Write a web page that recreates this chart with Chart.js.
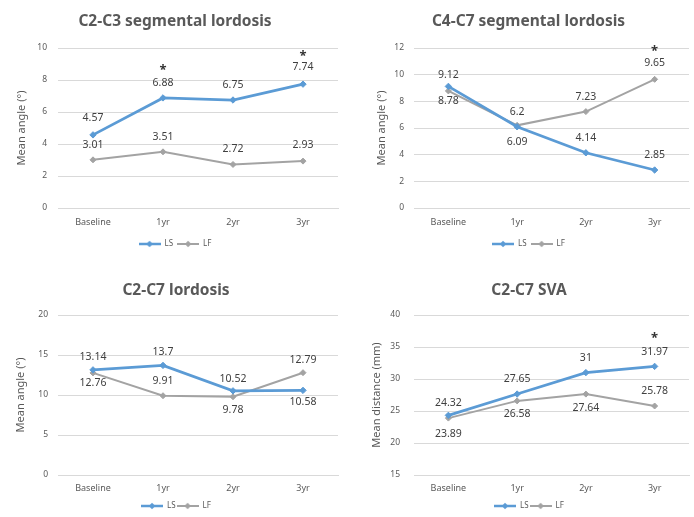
<!DOCTYPE html>
<html>
<head>
<meta charset="utf-8">
<script src="https://cdn.jsdelivr.net/npm/chart.js@4/dist/chart.umd.min.js"></script>
<style>
  html, body { margin: 0; padding: 0; background: #ffffff; }
  body { width: 694px; height: 517px; overflow: hidden; position: relative; }
  .panel { position: absolute; width: 347px; height: 258px; }
  .panel canvas { display: block; }
</style>
</head>
<body>
<div class="panel" style="left:0;top:0"><canvas id="c23"></canvas></div>
<div class="panel" style="left:347px;top:0"><canvas id="c47"></canvas></div>
<div class="panel" style="left:0;top:262px"><canvas id="c27"></canvas></div>
<div class="panel" style="left:347px;top:262px"><canvas id="sva"></canvas></div>
<script>
// Follow-up time points
const categories = ['Baseline', '1yr', '2yr', '3yr'];
const seriesNames = ['LS', 'LF'];

// C2-C3 segmental lordosis (degrees)
const c23LS = [4.57, 6.88, 6.75, 7.74];
const c23LF = [3.01, 3.51, 2.72, 2.93];
const c23LSMarks = ['', '*', '', '*'];
const c23LFMarks = ['', '', '', ''];

// C4-C7 segmental lordosis (degrees)
const c47LS = [9.12, 6.09, 4.14, 2.85];
const c47LF = [8.78, 6.2, 7.23, 9.65];
const c47LSMarks = ['', '', '', ''];
const c47LFMarks = ['', '', '', '*'];

// C2-C7 lordosis (degrees)
const c27LS = [13.14, 13.7, 10.52, 10.58];
const c27LF = [12.76, 9.91, 9.78, 12.79];
const c27LSMarks = ['', '', '', ''];
const c27LFMarks = ['', '', '', ''];

// C2-C7 sagittal vertical axis (mm)
const svaLS = [24.32, 27.65, 31, 31.97];
const svaLF = [23.89, 26.58, 27.64, 25.78];
const svaLSMarks = ['', '', '', '*'];
const svaLFMarks = ['', '', '', ''];

// Y axis ranges [min, max, step]
const c23Range = [0, 10, 2];
const c47Range = [0, 12, 2];
const c27Range = [0, 20, 5];
const svaRange = [15, 40, 5];

const FONT = '"Noto Sans", "DejaVu Sans", sans-serif';
const BLUE = '#5b9bd5';
const GREY = '#a3a3a3';
const TEXT = '#595959';
const LABEL = '#404040';

// Legend swatch: short line with a diamond marker
function swatch(color, lw) {
  const c = document.createElement('canvas');
  c.width = 22; c.height = 8;
  const g = c.getContext('2d');
  g.strokeStyle = color; g.lineWidth = lw;
  g.beginPath(); g.moveTo(0, 4); g.lineTo(22, 4); g.stroke();
  g.fillStyle = color;
  g.beginPath(); g.moveTo(11, 0.8); g.lineTo(14.2, 4); g.lineTo(11, 7.2); g.lineTo(7.8, 4); g.closePath(); g.fill();
  return c;
}

// Value labels (vertical offset from the point, negative = above) and significance marks
const pointLabels = {
  id: 'pointLabels',
  afterDatasetsDraw(chart) {
    const ctx = chart.ctx;
    ctx.save();
    ctx.textAlign = 'center';
    ctx.textBaseline = 'middle';
    chart.data.datasets.forEach((ds, di) => {
      const meta = chart.getDatasetMeta(di);
      meta.data.forEach((pt, i) => {
        ctx.font = '10.5px ' + FONT;
        ctx.fillStyle = LABEL;
        ctx.fillText(String(ds.data[i]), pt.x, pt.y + ds.labelShift[i]);
        if (ds.marks[i]) {
          ctx.font = 'bold 13px ' + FONT;
          ctx.fillStyle = '#333333';
          ctx.fillText(ds.marks[i], pt.x, pt.y - 28);
        }
      });
    });
    ctx.restore();
  }
};

function makeChart(cfg) {
  const el = document.getElementById(cfg.id);
  el.width = 347; el.height = 258;
  el.style.width = '347px'; el.style.height = '258px';
  return new Chart(el, {
    type: 'line',
    data: {
      labels: categories,
      datasets: [
        {
          label: seriesNames[0], data: cfg.ls, borderColor: BLUE, backgroundColor: BLUE,
          borderWidth: 2.75, pointStyle: 'rectRot', pointRadius: 3.2, pointBorderWidth: 1,
          tension: 0, labelShift: cfg.lsShift, marks: cfg.lsMarks, legendSwatch: swatch(BLUE, 2.5)
        },
        {
          label: seriesNames[1], data: cfg.lf, borderColor: GREY, backgroundColor: GREY,
          borderWidth: 2, pointStyle: 'rectRot', pointRadius: 3, pointBorderWidth: 1,
          tension: 0, labelShift: cfg.lfShift, marks: cfg.lfMarks, legendSwatch: swatch(GREY, 2)
        }
      ]
    },
    options: {
      responsive: false,
      animation: false,
      devicePixelRatio: 1,
      layout: { padding: cfg.pad },
      plugins: {
        title: {
          display: true, text: cfg.title, color: TEXT,
          font: { family: FONT, size: 15.5, weight: 'bold' },
          padding: cfg.titlePad
        },
        legend: {
          display: true, position: 'bottom',
          labels: {
            color: TEXT, font: { family: FONT, size: 8 },
            usePointStyle: true, pointStyleWidth: 22, padding: cfg.legendPad,
            generateLabels(chart) {
              const items = Chart.defaults.plugins.legend.labels.generateLabels(chart);
              items.forEach(it => { it.pointStyle = chart.data.datasets[it.datasetIndex].legendSwatch; });
              return items;
            }
          }
        },
        tooltip: { enabled: false }
      },
      scales: {
        x: {
          offset: true,
          grid: { display: false, drawTicks: false },
          border: { display: true, color: '#d9d9d9' },
          ticks: { color: TEXT, font: { family: FONT, size: 9 }, padding: cfg.xTickPad }
        },
        y: {
          min: cfg.range[0], max: cfg.range[1],
          afterFit(scale) { scale.width = cfg.yW; },
          grid: { color: '#d9d9d9', drawTicks: false },
          border: { display: false },
          ticks: { stepSize: cfg.range[2], color: TEXT, font: { family: FONT, size: 8.5 }, padding: cfg.yTickPad },
          title: {
            display: true, text: cfg.yTitle, color: TEXT,
            font: { family: FONT, size: 11 }, padding: { top: cfg.yTitlePad, bottom: 0 }
          }
        }
      }
    },
    plugins: [pointLabels]
  });
}

makeChart({
  id: 'c23', title: 'C2-C3 segmental lordosis', yTitle: 'Mean angle (°)',
  ls: c23LS, lf: c23LF, lsMarks: c23LSMarks, lfMarks: c23LFMarks, range: c23Range,
  lsShift: [-17, -15, -15, -17], lfShift: [-15, -15, -15, -16],
  pad: { left: 12, right: 9, top: 0, bottom: 0 }, titlePad: { top: 12.7, bottom: 16.7 },
  yW: 46, yTitlePad: 3.4, yTickPad: 11, xTickPad: 8.6, legendPad: 4
});

makeChart({
  id: 'c47', title: 'C4-C7 segmental lordosis', yTitle: 'Mean angle (°)',
  ls: c47LS, lf: c47LF, lsMarks: c47LSMarks, lfMarks: c47LFMarks, range: c47Range,
  lsShift: [-11, 15, -15, -15], lfShift: [10, -13, -15, -16],
  pad: { left: 18, right: 2, top: 0, bottom: 0 }, titlePad: { top: 12.7, bottom: 16.7 },
  yW: 49, yTitlePad: 10.4, yTickPad: 10, xTickPad: 8.6, legendPad: 4
});

makeChart({
  id: 'c27', title: 'C2-C7 lordosis', yTitle: 'Mean angle (°)',
  ls: c27LS, lf: c27LF, lsMarks: c27LSMarks, lfMarks: c27LFMarks, range: c27Range,
  lsShift: [-13, -13, -12, 12], lfShift: [10, -15, 13, -13],
  pad: { left: 14, right: 9, top: 0, bottom: 0 }, titlePad: { top: 19.7, bottom: 14.7 },
  yW: 44, yTitlePad: 0, yTickPad: 10, xTickPad: 7.6, legendPad: 1
});

makeChart({
  id: 'sva', title: 'C2-C7 SVA', yTitle: 'Mean distance (mm)',
  ls: svaLS, lf: svaLF, lsMarks: svaLSMarks, lfMarks: svaLFMarks, range: svaRange,
  lsShift: [-12, -15, -15, -14], lfShift: [16, 13, 14, -15],
  pad: { left: 18, right: 1, top: 0, bottom: 0 }, titlePad: { top: 19.7, bottom: 14.7 },
  yW: 49, yTitlePad: 5.4, yTickPad: 14, xTickPad: 7.6, legendPad: 1
});
</script>
</body>
</html>
